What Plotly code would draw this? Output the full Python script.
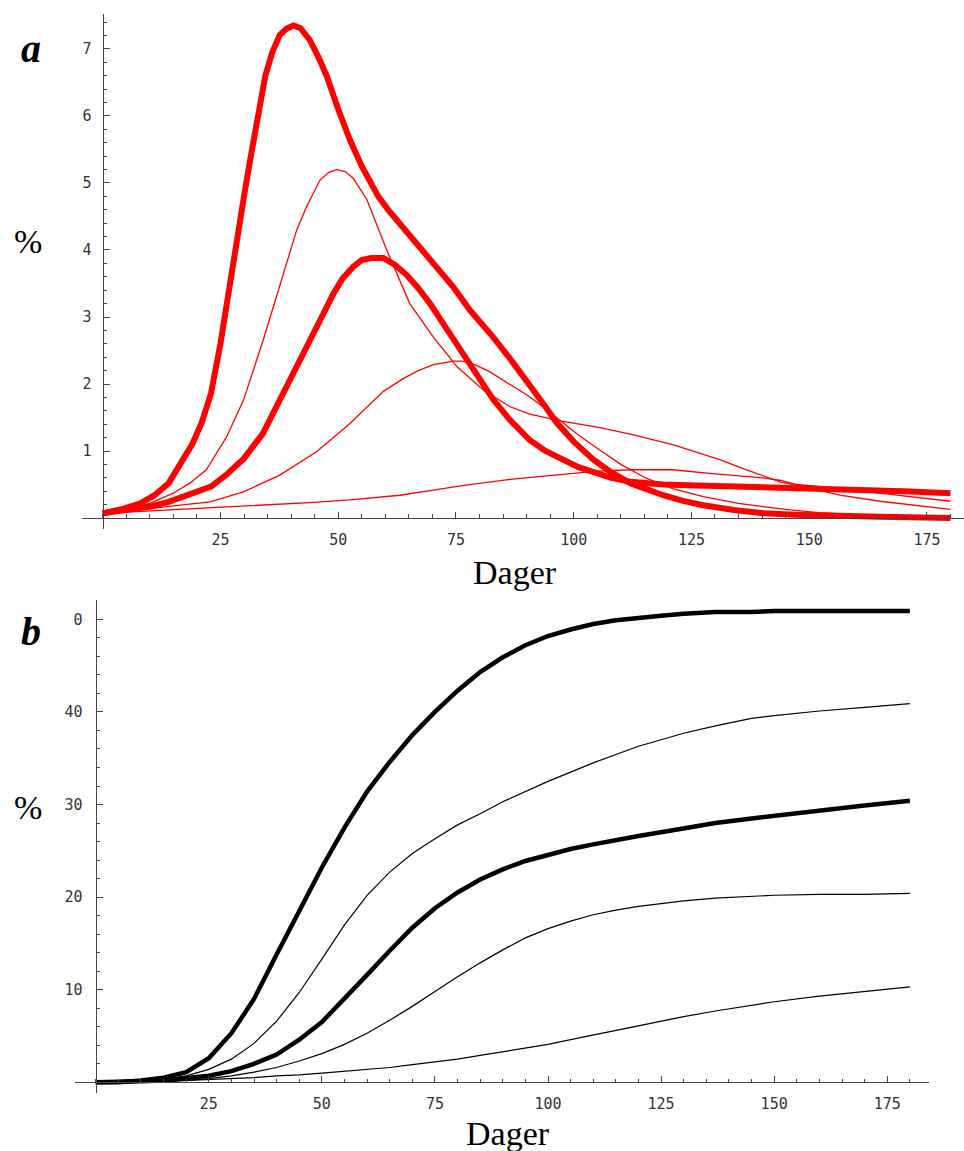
import plotly.graph_objects as go

# ---------------- Panel a (daily %, red) ----------------
aA_x = [0, 4, 8, 11, 14, 17, 19, 21, 23, 25, 26.5, 28.4, 30, 31.3, 33, 34.5, 36, 37.6, 39, 40.5, 42, 43, 44,
        46, 47.6, 50, 52.5, 55, 56.8, 58.5, 60.6, 64, 67.4, 71, 74.4, 78, 82.9, 87, 90.7, 94, 96.4, 100,
        104.2, 108, 112, 116, 119, 123, 127.5, 134, 140.3, 147, 154.4, 165, 180]
aA_y = [0.07, 0.13, 0.22, 0.34, 0.52, 0.87, 1.1, 1.42, 1.86, 2.6, 3.3, 4.1, 4.8, 5.34, 6.0, 6.59, 6.95, 7.21,
        7.3, 7.35, 7.31, 7.23, 7.13, 6.85, 6.59, 6.1, 5.64, 5.25, 5.0, 4.8, 4.6, 4.32, 4.05, 3.75, 3.45, 3.1,
        2.7, 2.33, 1.99, 1.66, 1.42, 1.14, 0.87, 0.68, 0.52, 0.41, 0.34, 0.26, 0.19, 0.12, 0.07, 0.05, 0.03,
        0.02, 0.0]

aB_x = [0, 5, 10, 14, 17, 20, 23, 26.5, 30, 34, 36.5, 39, 41.5, 44, 46.5, 49, 51, 53.2, 55, 57, 59.6, 62,
        64.5, 67, 69.5, 72.5, 76, 79.5, 83, 86.5, 90.7, 94, 97.8, 101, 104.9, 108, 112, 115, 119, 124, 129.6,
        140, 151, 161, 170, 180]
aB_y = [0.07, 0.12, 0.17, 0.24, 0.32, 0.39, 0.47, 0.66, 0.89, 1.26, 1.6, 1.96, 2.31, 2.66, 3.0, 3.35, 3.58,
        3.75, 3.85, 3.88, 3.88, 3.78, 3.63, 3.43, 3.2, 2.88, 2.51, 2.13, 1.76, 1.46, 1.16, 1.0, 0.86, 0.76,
        0.67, 0.6, 0.54, 0.52, 0.5, 0.49, 0.48, 0.47, 0.45, 0.42, 0.4, 0.37]

t1_x = [0, 5, 10, 15, 18.5, 22, 26.3, 29.9, 34.1, 37.6, 41.2, 43.3, 46.1, 48, 49.7, 51.5, 53.2, 56.1, 60.3,
        65.2, 70.2, 72.5, 75.2, 80.8, 86.5, 90.7, 97.1, 105.6, 112.7, 121.2, 127.5, 131, 136.7, 143.8, 148.7,
        156.5, 165, 172, 180]
t1_y = [0.07, 0.13, 0.22, 0.37, 0.52, 0.72, 1.21, 1.76, 2.66, 3.45, 4.3, 4.65, 5.04, 5.16, 5.2, 5.17, 5.07,
        4.75, 4.0, 3.2, 2.7, 2.5, 2.26, 1.91, 1.66, 1.55, 1.45, 1.35, 1.24, 1.09, 0.95, 0.87, 0.72, 0.54,
        0.47, 0.34, 0.25, 0.19, 0.13]

t2_x = [0, 5, 10, 16, 22.8, 29.9, 37.6, 45.4, 52.5, 59.6, 63.8, 67, 70.2, 72.7, 74.4, 76.5, 79, 82.2, 86,
        90, 93.5, 97.1, 101, 105.6, 110, 115.5, 121, 127.5, 131, 135, 140.2, 146, 152, 160, 170, 180]
t2_y = [0.07, 0.1, 0.14, 0.19, 0.24, 0.39, 0.64, 0.99, 1.41, 1.89, 2.08, 2.2, 2.29, 2.32, 2.34, 2.34, 2.29,
        2.18, 2.02, 1.84, 1.66, 1.46, 1.24, 1.01, 0.8, 0.59, 0.44, 0.32, 0.27, 0.22, 0.17, 0.12, 0.08, 0.05,
        0.03, 0.02]

t3_x = [0, 13.6, 25, 34.8, 44, 52.5, 63.1, 69.5, 76, 87, 97.5, 105, 112.6, 121, 130, 135, 140.2, 144,
        147.3, 152, 156.5, 165, 172, 180]
t3_y = [0.07, 0.12, 0.155, 0.19, 0.23, 0.27, 0.34, 0.41, 0.48, 0.58, 0.65, 0.7, 0.72, 0.72, 0.66, 0.63,
        0.6, 0.56, 0.5, 0.47, 0.44, 0.37, 0.31, 0.25]

a_xticks = [25, 50, 75, 100, 125, 150, 175]
a_yticks = [1, 2, 3, 4, 5, 6, 7]

# ---------------- Panel b (cumulative %, black) ----------------
b_x = [0, 5, 10, 15, 20, 25, 30, 35, 40, 45, 50, 55, 60, 65, 70, 75, 80, 85, 90, 95, 100, 105, 110, 115,
       120, 125, 130, 137, 145, 150, 160, 170, 180]
b1 = [0, 0, 0.2, 0.5, 1.1, 2.6, 5.3, 9.0, 13.8, 18.6, 23.2, 27.5, 31.4, 34.6, 37.5, 40.0, 42.3, 44.3, 45.9,
      47.2, 48.2, 48.9, 49.5, 49.9, 50.2, 50.4, 50.6, 50.8, 50.8, 50.9, 50.9, 50.9, 50.9]
b2 = [0, 0, 0.1, 0.3, 0.7, 1.4, 2.5, 4.2, 6.6, 9.7, 13.3, 17.0, 20.2, 22.7, 24.7, 26.3, 27.8, 29.0, 30.3,
      31.4, 32.5, 33.5, 34.5, 35.4, 36.3, 37.0, 37.7, 38.5, 39.3, 39.6, 40.1, 40.5, 40.9]
b3 = [0, 0, 0.1, 0.2, 0.4, 0.7, 1.2, 2.0, 3.0, 4.6, 6.5, 9.0, 11.6, 14.2, 16.7, 18.8, 20.5, 21.9, 23.0,
      23.9, 24.6, 25.2, 25.7, 26.2, 26.6, 27.0, 27.4, 28.0, 28.5, 28.8, 29.4, 29.9, 30.4]
b4 = [0, 0, 0.05, 0.1, 0.2, 0.4, 0.7, 1.1, 1.6, 2.3, 3.1, 4.1, 5.3, 6.7, 8.2, 9.8, 11.4, 12.9, 14.3, 15.6,
      16.6, 17.4, 18.1, 18.6, 19.0, 19.3, 19.6, 19.9, 20.1, 20.2, 20.3, 20.3, 20.4]
b5 = [0, 0, 0.05, 0.1, 0.2, 0.3, 0.4, 0.5, 0.7, 0.8, 1.0, 1.2, 1.4, 1.6, 1.9, 2.2, 2.5, 2.9, 3.3, 3.7, 4.1,
      4.6, 5.1, 5.6, 6.1, 6.6, 7.1, 7.7, 8.3, 8.7, 9.3, 9.8, 10.3]

b_xticks = [25, 50, 75, 100, 125, 150, 175]
b_yticks = [10, 20, 30, 40, 50]
b_yticktext = ["10", "20", "30", "40", "0"]

RED = "#ff0000"
W, H = 964, 1151

fig = go.Figure()

for xs, ys, w in [(t3_x, t3_y, 1.3), (t2_x, t2_y, 1.3), (t1_x, t1_y, 1.3), (aB_x, aB_y, 6), (aA_x, aA_y, 6)]:
    fig.add_trace(go.Scatter(x=xs, y=ys, mode="lines", line=dict(color=RED, width=w),
                             xaxis="x", yaxis="y", showlegend=False, hoverinfo="skip"))

for ys, w in [(b5, 1.2), (b4, 1.2), (b2, 1.2), (b3, 4.5), (b1, 4.5)]:
    fig.add_trace(go.Scatter(x=b_x, y=ys, mode="lines", line=dict(color="black", width=w),
                             xaxis="x2", yaxis="y2", showlegend=False, hoverinfo="skip"))

AX = "#444444"
tickfont = dict(family="DejaVu Sans Mono", size=15, color="#333333")


def px_x(p):
    return p / W


def px_y(p):
    return (H - p) / H


common = dict(showgrid=False, zeroline=False, showline=True, linecolor=AX, linewidth=1.3,
              ticks="inside", tickcolor=AX, tickwidth=1.2, ticklen=6, tickfont=tickfont,
              anchor="free", fixedrange=True)

fig.update_layout(
    width=W, height=H,
    margin=dict(l=0, r=0, t=0, b=0),
    paper_bgcolor="white", plot_bgcolor="white",
    xaxis=dict(domain=[px_x(82), 1.0], range=[-4.395, 182.87], position=px_y(518),
               tickmode="array", tickvals=a_xticks, ticklabelstandoff=8,
               minor=dict(tick0=0, dtick=5, ticks="inside", ticklen=3.5, tickcolor=AX, tickwidth=1),
               **common),
    yaxis=dict(domain=[px_y(529), px_y(14)], range=[-0.164, 7.522], position=px_x(102.7),
               tickmode="array", tickvals=a_yticks, ticklabelstandoff=8,
               minor=dict(tick0=0, dtick=0.2, ticks="inside", ticklen=3.5, tickcolor=AX, tickwidth=1),
               **common),
    xaxis2=dict(domain=[px_x(75), px_x(929.3)], range=[-4.577, 184.3], position=px_y(1082.3),
                tickmode="array", tickvals=b_xticks, ticklabelstandoff=8,
                minor=dict(tick0=0, dtick=5, ticks="inside", ticklen=3.5, tickcolor=AX, tickwidth=1),
                **common),
    yaxis2=dict(domain=[px_y(1093), px_y(600)], range=[-1.156, 52.09], position=px_x(95.7),
                tickmode="array", tickvals=b_yticks, ticktext=b_yticktext, ticklabelstandoff=10,
                minor=dict(tick0=0, dtick=2, ticks="inside", ticklen=3.5, tickcolor=AX, tickwidth=1),
                **common),
)

serif = "Liberation Serif"
ann = [
    dict(text="<b><i>a</i></b>", x=px_x(31), y=px_y(48), size=40),
    dict(text="%", x=px_x(28), y=px_y(241), size=34),
    dict(text="Dager", x=px_x(515), y=px_y(572), size=34),
    dict(text="<b><i>b</i></b>", x=px_x(31), y=px_y(632), size=40),
    dict(text="%", x=px_x(27.5), y=px_y(807), size=34),
    dict(text="Dager", x=px_x(508), y=px_y(1133), size=34),
]
for a in ann:
    fig.add_annotation(text=a["text"], x=a["x"], y=a["y"], xref="paper", yref="paper",
                       xanchor="center", yanchor="middle", showarrow=False,
                       font=dict(family=serif, size=a["size"], color="black"))

fig.write_html("out.html", config={"displayModeBar": False},
               post_script="document.body.style.margin='0px';document.body.style.overflow='hidden';")
